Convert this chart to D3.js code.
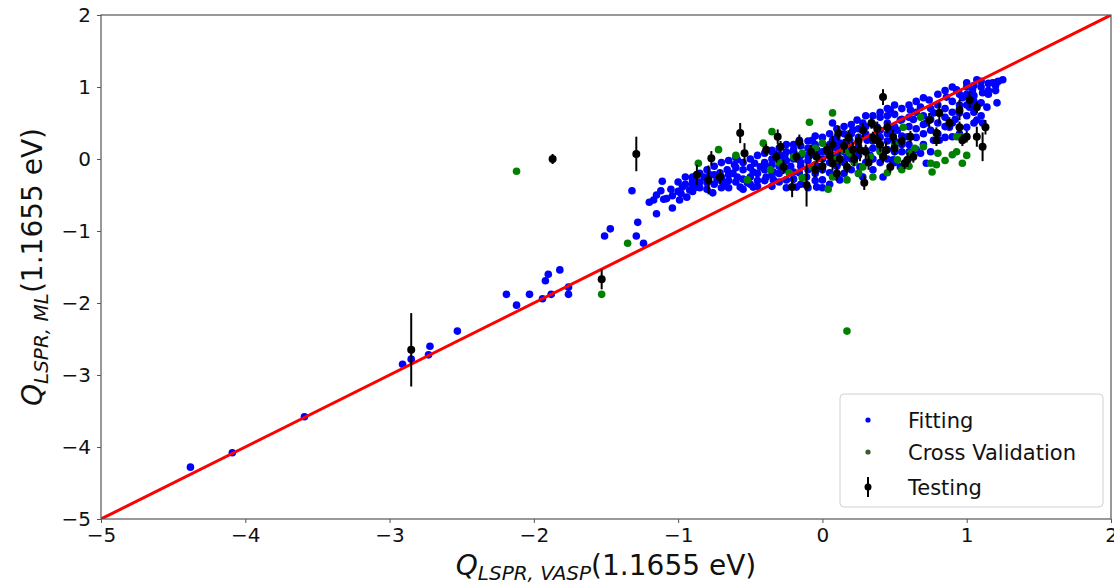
<!DOCTYPE html>
<html>
<head>
<meta charset="utf-8">
<script src="https://cdn.jsdelivr.net/npm/d3@7"></script>
<style>
  body { margin: 0; background: #fff; }
  text { font-family: "DejaVu Sans", sans-serif; }
</style>
</head>
<body>
<main></main>
<script>
// fitting set: [Q_VASP, Q_ML]
var fitting = [
  [-4.38,-4.28],[-4.09,-4.08],[-3.59,-3.58],[-2.91,-2.85],[-2.85,-2.78],[-2.72,-2.6],[-2.73,-2.72],[-2.53,-2.39],
  [-2.19,-1.88],[-2.12,-2.03],[-2.03,-1.88],[-1.94,-1.94],[-1.92,-1.69],[-1.9,-1.6],[-1.88,-1.88],[-1.82,-1.54],
  [-1.76,-1.88],[-1.76,-1.78],[-1.51,-1.07],[-1.47,-0.97],[-1.32,-0.44],[-1.29,-1.07],[-1.28,-0.88],[-1.24,-1.17],
  [-1.17,-0.57],[-1.15,-0.76],[-1.12,-0.44],[-1.11,-0.31],[-1.1,-0.56],[-1.04,-0.68],[-1.04,-0.51],[-0.99,-0.57],
  [-0.97,-0.39],[-0.94,-0.53],[-0.92,-0.43],
  [-0.87,-0.39],[-0.85,-0.32],[-0.8,-0.33],[-0.76,-0.47],[-0.73,-0.29],[-0.71,-0.19],[-0.66,-0.15],[-0.61,-0.08],
  [-0.59,-0.25],[-0.57,-0.39],[-0.52,-0.33],[-0.48,-0.18],[-0.47,-0.06],[-0.43,-0.11],[-0.39,-0.11],[-0.39,-0.25],
  [-0.34,-0.29],[-0.34,-0.18],[-0.29,-0.01],[-0.26,0.06],[-0.25,-0.29],[-0.2,0.13],[-0.18,-0.39],[-0.16,-0.19],
  [-0.11,-0.25],[-0.07,0.26],[-0.04,0.13],[-0.02,-0.11],[0.0,-0.29],[0.05,-0.19],[0.07,0.26],[0.12,0.22],
  [0.17,0.03],[0.21,0.4],[0.24,0.54],[0.26,-0.11],[0.28,-0.25],[0.31,0.26],[0.38,0.44],[0.4,0.58],
  [0.45,0.13],[0.47,0.68],[0.49,-0.01],[0.54,0.54],[0.59,0.31],[0.61,0.68],[0.65,0.13],[0.68,0.72],
  [0.72,0.5],[0.74,0.82],[0.77,0.26],[0.81,0.64],[0.86,0.86],[0.88,0.44],[0.93,0.96],[0.95,0.64],
  [1.0,1.06],[1.02,0.72],[1.04,0.96],[1.07,1.1],[1.11,0.92],[1.14,0.72],[1.18,1.06],[1.21,0.78],
  [1.21,1.07],[1.07,0.54],[1.11,0.5],[1.0,0.44],[0.9,0.31],[0.81,0.26],[0.68,0.08],[0.61,0.03],
  [0.72,-0.06],[0.54,-0.11],[0.42,-0.25],[0.12,-0.29],[-0.04,-0.39],[-0.48,-0.39],[-0.59,-0.01],[-0.16,0.26],
  [0.07,0.5],[0.19,0.26],[0.47,0.4],[0.77,0.64],
  [-0.7,-0.25],[-0.65,-0.3],[-0.55,-0.15],[-0.5,-0.25],[-0.45,-0.3],[-0.4,-0.05],[-0.35,0.0],[-0.3,-0.2],
  [-0.3,-0.1],[-0.22,-0.1],[-0.2,0.0],[-0.15,-0.05],[-0.1,0.05],[-0.1,0.15],[-0.05,-0.2],[0.0,0.0],
  [0.02,0.1],[0.05,0.2],[0.1,0.05],[0.1,-0.1],[0.15,0.35],[0.2,0.15],[0.25,0.3],[0.3,0.45],
  [0.33,0.05],[0.35,0.15],[0.4,0.3],[0.45,0.5],[0.5,0.25],[0.52,0.4],[0.55,0.1],[0.6,0.45],
  [0.63,0.55],[0.65,0.3],[0.7,0.6],[0.75,0.4],[0.8,0.5],[0.85,0.7],[0.9,0.8],[0.92,0.55],
  [0.97,0.85],[1.0,0.9],[1.05,0.8],[1.1,1.0],[1.15,1.05],[1.22,1.08],[1.25,1.1],[-0.82,-0.25],
  [-0.9,-0.3],[-0.95,-0.35],[-1.0,-0.45],[-0.78,-0.22],[-0.68,-0.35],[-0.62,-0.2],[0.35,0.6],[0.28,0.5],
  [0.45,0.7],[0.55,0.7],[0.15,0.45],[-0.25,0.2],[-0.35,0.1],
  [-0.9,-0.45],[-0.9,-0.35],[-0.9,-0.25],[-0.85,-0.4],[-0.85,-0.2],[-0.8,-0.42],[-0.8,-0.15],[-0.8,-0.28],
  [-0.75,-0.35],[-0.75,-0.1],[-0.75,-0.22],[-0.7,-0.4],[-0.7,-0.05],[-0.7,-0.3],[-0.65,-0.22],[-0.65,-0.02],
  [-0.65,-0.4],[-0.6,-0.32],[-0.6,-0.12],[-0.6,0.02],[-0.55,-0.42],[-0.55,-0.28],[-0.55,-0.05],[-0.5,-0.35],
  [-0.5,-0.12],[-0.5,0.0],[-0.45,-0.2],[-0.45,0.05],[-0.45,-0.38],[-0.4,-0.3],[-0.4,-0.15],[-0.4,0.08],
  [-0.35,-0.38],[-0.35,-0.22],[-0.35,-0.08],[-0.35,0.12],[-0.3,-0.32],[-0.3,0.05],[-0.3,0.15],[-0.25,-0.4],
  [-0.25,-0.15],[-0.25,-0.02],[-0.25,0.1],[-0.2,-0.28],[-0.2,-0.18],[-0.2,0.08],[-0.2,0.2],[-0.15,-0.35],
  [-0.15,-0.1],[-0.15,0.05],[-0.15,0.18],[-0.1,-0.4],[-0.1,-0.15],[-0.1,-0.02],[-0.1,0.25],[-0.05,-0.3],
  [-0.05,-0.08],[-0.05,0.05],[-0.05,0.2],[-0.05,0.32],[0.0,-0.4],[0.0,-0.15],[0.0,0.1],[0.0,0.3],
  [0.05,-0.35],[0.05,-0.05],[0.05,0.12],[0.05,0.35],[0.1,-0.25],[0.1,0.15],[0.1,0.3],[0.1,0.42],
  [0.15,-0.2],[0.15,-0.05],[0.15,0.1],[0.15,0.22],[0.2,-0.15],[0.2,0.0],[0.2,0.35],[0.2,0.48],
  [0.25,-0.2],[0.25,0.05],[0.25,0.18],[0.25,0.42],[0.3,-0.05],[0.3,0.12],[0.3,0.35],[0.3,0.6],
  [0.35,-0.15],[0.35,0.0],[0.35,0.25],[0.35,0.48],[0.4,-0.05],[0.4,0.12],[0.4,0.4],[0.4,0.65],
  [0.45,0.0],[0.45,0.25],[0.45,0.35],[0.45,0.6],[0.5,-0.05],[0.5,0.1],[0.5,0.45],[0.5,0.62],
  [0.5,0.75],[0.55,0.2],[0.55,0.32],[0.55,0.55],[0.6,0.1],[0.6,0.2],[0.6,0.58],[0.6,0.75],
  [0.65,0.42],[0.65,0.65],[0.65,0.8],[0.7,0.2],[0.7,0.35],[0.7,0.48],[0.7,0.85],[0.75,0.1],
  [0.75,0.55],[0.75,0.7],[0.8,0.35],[0.8,0.75],[0.8,0.9],[0.85,0.3],[0.85,0.45],[0.85,0.58],
  [0.85,0.95],[0.9,0.5],[0.9,0.65],[0.9,1.0],[0.95,0.35],[0.95,0.75],[0.95,0.9],[1.0,0.6],
  [1.0,0.75],[1.0,1.0],[1.05,0.5],[1.05,0.65],[1.05,0.88],[1.05,1.02],[1.1,0.6],[1.1,0.78],
  [1.1,1.08],[1.15,0.9],[1.15,0.95],[1.2,0.95],[1.2,1.02],
  [-1.2,-0.6],[-1.15,-0.5],[-1.08,-0.55],[-1.05,-0.42],[-1.0,-0.32],[-0.98,-0.48],[-0.95,-0.25]
];

// cross validation set
var crossval = [
  [-2.12,-0.17],[0.17,-2.39],[-1.53,-1.88],[-1.35,-1.17],
  [0.07,0.64],[-0.09,0.51],[-0.35,0.38],[-0.41,0.22],[-0.72,0.13],[-0.86,-0.06],[-0.52,-0.29],[-0.2,0.03],
  [-0.14,0.08],[0.07,-0.25],[0.04,-0.42],[0.17,-0.29],[0.28,-0.11],[0.33,0.03],[0.45,-0.19],[0.52,-0.01],
  [0.61,0.08],[0.7,0.17],[0.75,-0.06],[0.79,-0.08],[0.76,-0.18],[0.9,0.06],[0.97,-0.06],[0.93,0.31],
  [0.68,0.58],[0.56,0.44],[0.19,0.08],[-0.07,-0.11],[-0.23,-0.19],[-0.36,-0.15],[0.0,0.22],[-0.14,-0.26],
  [0.64,0.15],[0.93,0.1],[0.96,0.31],
  [0.1,0.0],[0.25,-0.2],[0.35,-0.25],[0.55,-0.15],[0.4,0.1],[0.85,-0.02],[0.6,-0.1],[-0.05,0.15],
  [0.15,0.12],[-0.6,0.05],[-0.3,-0.05],[0.8,0.08],[1.0,0.05],[0.5,0.2],[0.22,-0.05]
];

// testing set: [Q_VASP, Q_ML, error]
var testing = [
  [-2.85,-2.65,0.51],[-1.53,-1.67,0.14],[-1.29,0.07,0.24],[-1.87,0.0,0.07],[-0.57,0.36,0.14],[-0.54,0.08,0.14],
  [-0.77,0.01,0.1],[-0.87,-0.22,0.14],[-0.79,-0.29,0.2],[-0.71,-0.25,0.1],[-0.39,0.13,0.08],[-0.31,0.31,0.1],
  [-0.29,0.17,0.08],[-0.32,0.03,0.08],[-0.27,-0.11,0.1],[-0.21,-0.39,0.14],[-0.16,0.24,0.1],[-0.18,0.03,0.08],
  [-0.11,-0.36,0.3],[-0.04,0.03,0.08],[0.03,0.13,0.08],[0.07,-0.06,0.1],[0.11,0.36,0.1],[0.17,-0.11,0.08],
  [0.21,0.13,0.1],[0.28,0.4,0.1],[0.29,-0.33,0.1],[0.34,0.5,0.08],[0.38,0.26,0.1],[0.42,0.86,0.11],
  [0.45,0.44,0.08],[0.49,0.31,0.1],[0.42,0.03,0.08],[0.47,-0.11,0.08],[0.59,-0.01,0.1],[0.63,0.03,0.08],
  [0.61,0.31,0.08],[0.74,0.54,0.1],[0.79,0.36,0.08],[0.81,0.64,0.14],[0.88,0.5,0.08],[0.95,0.68,0.14],
  [0.95,0.44,0.08],[0.97,0.26,0.08],[1.02,0.82,0.11],[1.07,0.72,0.08],[1.07,0.31,0.14],[1.11,0.17,0.2],
  [1.13,0.44,0.1],[1.0,0.31,0.08],[0.79,0.26,0.08],[0.57,-0.06,0.08],
  [0.0,-0.1,0.1],[0.05,0.05,0.1],[0.12,0.0,0.1],[0.15,0.18,0.1],[0.22,0.0,0.1],[0.25,0.25,0.1],
  [0.3,0.1,0.1],[0.35,0.3,0.08],[0.32,-0.05,0.1],[0.4,0.2,0.1],[0.1,-0.2,0.1],[-0.05,-0.15,0.1],
  [0.18,0.3,0.1],[0.5,0.15,0.1],[0.55,0.25,0.08],[0.38,0.42,0.1],[-0.08,0.1,0.1],[0.26,0.12,0.15],
  [0.44,0.12,0.12],[0.07,0.2,0.12]
];

var axisRange = [-5, 2];
var tickValues = [-5, -4, -3, -2, -1, 0, 1, 2];
var legendLabels = ["Fitting", "Cross Validation", "Testing"];

var W = 1114, H = 587;
var margin = {top: 15, left: 101, right: 3, bottom: 68};
var w = W - margin.left - margin.right;
var h = H - margin.top - margin.bottom;

var svg = d3.select("main").append("svg")
            .attr("width", W)
            .attr("height", H);

var x = d3.scaleLinear().domain(axisRange).range([margin.left, margin.left + w]);
var y = d3.scaleLinear().domain(axisRange).range([margin.top + h, margin.top]);

svg.append("clipPath").attr("id", "clip")
  .append("rect").attr("x", margin.left).attr("y", margin.top).attr("width", w).attr("height", h);

var plot = svg.append("g").attr("clip-path", "url(#clip)");

plot.selectAll("circle.fit")
    .data(fitting)
    .enter()
    .append("circle")
    .attr("class", "fit")
    .attr("cx", function(d) { return x(d[0]); })
    .attr("cy", function(d) { return y(d[1]); })
    .attr("r", 3.8)
    .attr("fill", "#0000ff");

plot.selectAll("circle.cv")
    .data(crossval)
    .enter()
    .append("circle")
    .attr("class", "cv")
    .attr("cx", function(d) { return x(d[0]); })
    .attr("cy", function(d) { return y(d[1]); })
    .attr("r", 3.8)
    .attr("fill", "#008000");

// parity line
plot.append("line")
    .attr("x1", x(axisRange[0])).attr("y1", y(axisRange[0]))
    .attr("x2", x(axisRange[1])).attr("y2", y(axisRange[1]))
    .attr("stroke", "#ff0000")
    .attr("stroke-width", 3);

var test = plot.selectAll("g.test")
    .data(testing)
    .enter()
    .append("g")
    .attr("class", "test");
test.append("line")
    .attr("x1", function(d) { return x(d[0]); })
    .attr("x2", function(d) { return x(d[0]); })
    .attr("y1", function(d) { return y(d[1] - d[2]); })
    .attr("y2", function(d) { return y(d[1] + d[2]); })
    .attr("stroke", "#000")
    .attr("stroke-width", 2);
test.append("circle")
    .attr("cx", function(d) { return x(d[0]); })
    .attr("cy", function(d) { return y(d[1]); })
    .attr("r", 4)
    .attr("fill", "#000");

// axes
var fmt = d3.format("d");
var xAxis = d3.axisBottom(x).tickValues(tickValues).tickFormat(fmt).tickSize(4).tickPadding(5);
var yAxis = d3.axisLeft(y).tickValues(tickValues).tickFormat(fmt).tickSize(4).tickPadding(6);

var gx = svg.append("g").attr("transform", "translate(0," + (margin.top + h) + ")").call(xAxis);
var gy = svg.append("g").attr("transform", "translate(" + margin.left + ",0)").call(yAxis);
[gx, gy].forEach(function(g) {
  g.select(".domain").remove();
  g.selectAll(".tick line").attr("stroke", "#555");
  g.selectAll(".tick text").attr("font-size", 20).attr("fill", "#111")
   .style("font-family", "DejaVu Sans");
});

svg.append("rect")
   .attr("x", margin.left).attr("y", margin.top)
   .attr("width", w).attr("height", h)
   .attr("fill", "none")
   .attr("stroke", "#555")
   .attr("stroke-width", 1.2);

// axis labels
var xl = svg.append("text")
    .attr("x", margin.left + w / 2)
    .attr("y", 575)
    .attr("text-anchor", "middle")
    .attr("font-size", 28)
    .attr("fill", "#111");
xl.append("tspan").attr("font-style", "italic").text("Q");
xl.append("tspan").attr("font-style", "italic").attr("font-size", 20).attr("dy", 5).text("LSPR, VASP");
xl.append("tspan").attr("dy", -5).text("(1.1655 eV)");

var yl = svg.append("text")
    .attr("transform", "translate(42," + (margin.top + h / 2) + ") rotate(-90)")
    .attr("text-anchor", "middle")
    .attr("font-size", 28)
    .attr("fill", "#111");
yl.append("tspan").attr("font-style", "italic").text("Q");
yl.append("tspan").attr("font-style", "italic").attr("font-size", 20).attr("dy", 6).text("LSPR, ML");
yl.append("tspan").attr("dy", -6).text("(1.1655 eV)");

// legend
var legend = svg.append("g");
legend.append("rect")
      .attr("x", 840).attr("y", 394)
      .attr("width", 263).attr("height", 113)
      .attr("rx", 4)
      .attr("fill", "#fff")
      .attr("fill-opacity", 0.85)
      .attr("stroke", "#d0d0d0");
var rowY = [420, 452, 487];
legend.append("circle").attr("cx", 868).attr("cy", rowY[0]).attr("r", 2.6).attr("fill", "#0000ff");
legend.append("circle").attr("cx", 868).attr("cy", rowY[1]).attr("r", 2.6).attr("fill", "#3a5a2a");
legend.append("line").attr("x1", 868).attr("x2", 868)
      .attr("y1", rowY[2] - 10).attr("y2", rowY[2] + 10)
      .attr("stroke", "#000").attr("stroke-width", 2);
legend.append("circle").attr("cx", 868).attr("cy", rowY[2]).attr("r", 3.5).attr("fill", "#000");
legend.selectAll("text.leg")
      .data(legendLabels)
      .enter()
      .append("text")
      .attr("class", "leg")
      .attr("x", 908)
      .attr("y", function(d, i) { return rowY[i] + 8; })
      .attr("font-size", 21)
      .attr("fill", "#111")
      .text(function(d) { return d; });
</script>
</body>
</html>
